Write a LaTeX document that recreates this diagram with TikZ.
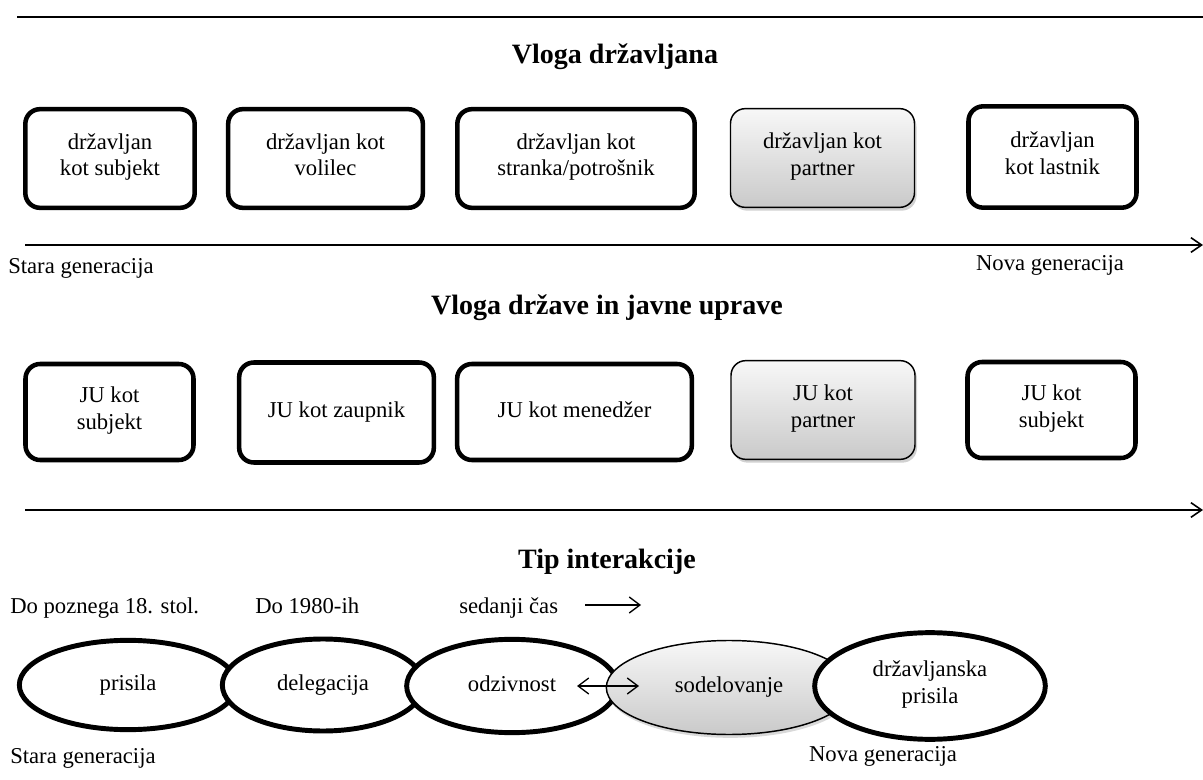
\documentclass[tikz,border=0pt]{standalone}
\usepackage{fontspec}
\setmainfont{Liberation Serif}
\usetikzlibrary{arrows.meta,shapes.geometric,shadows}
\begin{document}
\begin{tikzpicture}[x=0.75pt,y=-0.75pt,
  every node/.style={execute at begin node=\strut},
  boxtext/.style={execute at begin node={\rule[-6pt]{0pt}{19pt}}},
  txt/.style={font=\fontsize{17}{20}\selectfont, inner sep=0pt},
  ttl/.style={font=\fontsize{21}{24}\selectfont\bfseries, inner sep=0pt},
  rolebox/.style={boxtext, draw=black, line width=3.4pt, rounded corners=11pt, fill=white,
    align=center, inner sep=2pt, font=\fontsize{17}{20}\selectfont},
  graybox/.style={boxtext, draw=black, line width=1.1pt, rounded corners=11pt,
    top color=gray!6, bottom color=gray!42, align=center, inner sep=2pt,
    font=\fontsize{17}{20}\selectfont,
    drop shadow={opacity=0.3, shadow xshift=1.5pt, shadow yshift=-2.5pt, fill=black!60}},
  oval/.style={ellipse, draw=black, line width=3.7pt, fill=white, align=center,
    inner sep=0pt, font=\fontsize{17}{20}\selectfont},
  grayoval/.style={ellipse, draw=black, line width=1.1pt, top color=gray!6,
    bottom color=gray!42, align=center, inner sep=0pt, font=\fontsize{17}{20}\selectfont,
    drop shadow={opacity=0.25, shadow xshift=1pt, shadow yshift=-2.5pt, fill=black!60}},
  axis/.style={line width=1.5pt, -{Straight Barb[length=8pt, width=11pt, line width=1.2pt]}},
  thin arrow/.style={line width=1pt, -{Straight Barb[length=8pt, width=12pt]}},
  both arrow/.style={line width=1pt, {Straight Barb[length=8pt, width=12pt]}-{Straight Barb[length=8pt, width=12pt]}}
]
\useasboundingbox (0,0) rectangle (1203,780);

% rule at the top
\coordinate (ruleL) at (17,17);
\coordinate (ruleR) at (1203,17);
\draw[line width=1.5pt] (ruleL) -- (ruleR);

% ---- citizen roles ----
\node[ttl] (t1) at (615,57) {Vloga državljana};
\node[rolebox, minimum width=127pt, minimum height=74pt] (b1) at (110,158.5) {državljan\\\strut kot subjekt};
\node[rolebox, minimum width=146pt, minimum height=74pt] (b2) at (325.5,158.5) {državljan kot\\\strut volilec};
\node[rolebox, minimum width=178pt, minimum height=74pt] (b3) at (576,158.5) {državljan kot\\\strut stranka/potrošnik};
\node[graybox, minimum width=138pt, minimum height=74pt] (b4) at (822.5,158) {državljan kot\\\strut partner};
\node[rolebox, minimum width=126pt, minimum height=76pt] (b5) at (1052.5,157) {državljan\\\strut kot lastnik};

\coordinate (a1L) at (25,245);
\coordinate (a1R) at (1203,245);
\draw[axis] (a1L) -- (a1R);
\node[txt, anchor=west] (old1) at (8,268) {Stara generacija};
\node[txt] (new1) at (1050,265) {Nova generacija};

% ---- roles of the state and public administration ----
\node[ttl] (t2) at (607,308) {Vloga države in javne uprave};
\node[rolebox, minimum width=126pt, minimum height=72pt] (c1) at (109.5,412) {JU kot\\\strut subjekt};
\node[rolebox, minimum width=146pt, minimum height=75pt] (c2) at (336.5,412.5) {JU kot zaupnik};
\node[rolebox, minimum width=176pt, minimum height=72pt] (c3) at (574.5,412) {JU kot menedžer};
\node[graybox, minimum width=138pt, minimum height=74pt] (c4) at (823,410) {JU kot\\\strut partner};
\node[rolebox, minimum width=126pt, minimum height=72pt] (c5) at (1051.5,410) {JU kot\\\strut subjekt};

\coordinate (a2L) at (25,510);
\coordinate (a2R) at (1203,510);
\draw[axis] (a2L) -- (a2R);

% ---- type of interaction ----
\node[ttl] (t3) at (607,562) {Tip interakcije};
\node[txt, anchor=west] (p1) at (10,608) {Do poznega 18. stol.};
\node[txt, anchor=west] (p2) at (255,608) {Do 1980-ih};
\node[txt, anchor=west] (p3) at (459,608) {sedanji čas};
\coordinate (nowS) at (585,605);
\coordinate (nowE) at (641,605);
\draw[thin arrow] (nowS) -- (nowE);

\node[oval, minimum width=163pt, minimum height=67pt] (e1) at (128,685) {prisila};
\node[oval, minimum width=151pt, minimum height=69pt] (e2) at (323,685) {delegacija};
\node[oval, minimum width=158pt, minimum height=70pt] (e3) at (512,686) {odzivnost};
\node[grayoval, minimum width=184pt, minimum height=70.5pt] (e4) at (729,687.5) {sodelovanje};
\node[oval, minimum width=173pt, minimum height=80pt] (e5) at (930,686) {državljanska\\\strut prisila};

\coordinate (dS) at (577,686);
\coordinate (dE) at (639,686);
\draw[both arrow] (dS) -- (dE);

\node[txt, anchor=west] (old2) at (10,758) {Stara generacija};
\node[txt] (new2) at (883,756) {Nova generacija};
\end{tikzpicture}
\end{document}
